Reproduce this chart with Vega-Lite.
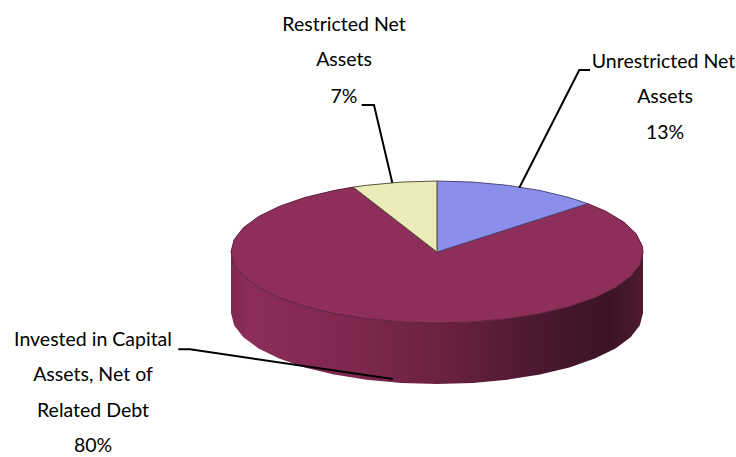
{"$schema":"https://vega.github.io/schema/vega-lite/v6.json","width":736,"height":457,"autosize":"none","padding":0,"background":"white","view":{"stroke":null},
"datasets":{
"side":[{"i":1,"x":231,"y":252},{"i":2,"x":234.1,"y":264.3},{"i":3,"x":243.4,"y":276.3},{"i":4,"x":258.6,"y":287.5},{"i":5,"x":279.2,"y":297.6},{"i":6,"x":304.6,"y":306.4},{"i":7,"x":334,"y":313.5},{"i":8,"x":366.5,"y":318.7},{"i":9,"x":401.2,"y":321.9},{"i":10,"x":437,"y":323},{"i":11,"x":472.8,"y":321.9},{"i":12,"x":507.5,"y":318.7},{"i":13,"x":540,"y":313.5},{"i":14,"x":569.4,"y":306.4},{"i":15,"x":594.8,"y":297.6},{"i":16,"x":615.4,"y":287.5},{"i":17,"x":630.6,"y":276.3},{"i":18,"x":639.9,"y":264.3},{"i":19,"x":643,"y":252},{"i":20,"x":643,"y":313},{"i":21,"x":639.9,"y":325.3},{"i":22,"x":630.6,"y":337.3},{"i":23,"x":615.4,"y":348.5},{"i":24,"x":594.8,"y":358.6},{"i":25,"x":569.4,"y":367.4},{"i":26,"x":540,"y":374.5},{"i":27,"x":507.5,"y":379.7},{"i":28,"x":472.8,"y":382.9},{"i":29,"x":437,"y":384},{"i":30,"x":401.2,"y":382.9},{"i":31,"x":366.5,"y":379.7},{"i":32,"x":334,"y":374.5},{"i":33,"x":304.6,"y":367.4},{"i":34,"x":279.2,"y":358.6},{"i":35,"x":258.6,"y":348.5},{"i":36,"x":243.4,"y":337.3},{"i":37,"x":234.1,"y":325.3},{"i":38,"x":231,"y":313},{"i":39,"x":231,"y":252}],
"invested":[{"i":0,"x":437,"y":252},{"i":1,"x":587.7,"y":203.6},{"i":2,"x":605.8,"y":211.3},{"i":3,"x":623.7,"y":222},{"i":4,"x":636,"y":233.6},{"i":5,"x":642.2,"y":245.8},{"i":6,"x":643,"y":252},{"i":7,"x":639.9,"y":264.3},{"i":8,"x":630.6,"y":276.3},{"i":9,"x":615.4,"y":287.5},{"i":10,"x":594.8,"y":297.6},{"i":11,"x":569.4,"y":306.4},{"i":12,"x":540,"y":313.5},{"i":13,"x":507.5,"y":318.7},{"i":14,"x":472.8,"y":321.9},{"i":15,"x":437,"y":323},{"i":16,"x":401.2,"y":321.9},{"i":17,"x":366.5,"y":318.7},{"i":18,"x":334,"y":313.5},{"i":19,"x":304.6,"y":306.4},{"i":20,"x":279.2,"y":297.6},{"i":21,"x":258.6,"y":287.5},{"i":22,"x":243.4,"y":276.3},{"i":23,"x":234.1,"y":264.3},{"i":24,"x":231,"y":252},{"i":25,"x":234.1,"y":239.7},{"i":26,"x":243.4,"y":227.7},{"i":27,"x":258.6,"y":216.5},{"i":28,"x":279.2,"y":206.4},{"i":29,"x":304.6,"y":197.6},{"i":30,"x":334,"y":190.5},{"i":31,"x":353.2,"y":187.1},{"i":32,"x":437,"y":252}],
"unrestricted":[{"i":0,"x":437,"y":252},{"i":1,"x":437,"y":181},{"i":2,"x":472.8,"y":182.1},{"i":3,"x":507.5,"y":185.3},{"i":4,"x":540,"y":190.5},{"i":5,"x":569.4,"y":197.6},{"i":6,"x":587.7,"y":203.6},{"i":7,"x":437,"y":252}],
"restricted":[{"i":0,"x":437,"y":252},{"i":1,"x":353.2,"y":187.1},{"i":2,"x":366.5,"y":185.3},{"i":3,"x":401.2,"y":182.1},{"i":4,"x":437,"y":181},{"i":5,"x":437,"y":252}],
"leaders":[{"k":"r","i":0,"x":361.7,"y":105},{"k":"r","i":1,"x":374,"y":105},{"k":"r","i":2,"x":392.3,"y":182.7},{"k":"u","i":0,"x":590,"y":70},{"k":"u","i":1,"x":579.3,"y":70},{"k":"u","i":2,"x":519.3,"y":187.7},{"k":"c","i":0,"x":178.3,"y":349.3},{"k":"c","i":1,"x":190,"y":349.3},{"k":"c","i":2,"x":392.7,"y":379}],
"labels":[{"x":344,"y":25,"t":"Restricted Net"},{"x":344,"y":60,"t":"Assets"},{"x":344,"y":97,"t":"7%"},{"x":663.5,"y":62,"t":"Unrestricted Net"},{"x":665,"y":97,"t":"Assets"},{"x":665,"y":133,"t":"13%"},{"x":93,"y":340,"t":"Invested in Capital"},{"x":93,"y":375,"t":"Assets, Net of"},{"x":93,"y":411,"t":"Related Debt"},{"x":93,"y":446,"t":"80%"}]
},
"encoding":{
"x":{"field":"x","type":"quantitative","scale":{"domain":[0,736],"nice":false,"zero":false},"axis":null},
"y":{"field":"y","type":"quantitative","scale":{"domain":[457,0],"nice":false,"zero":false},"axis":null}
},
"layer":[
{"data":{"name":"side"},"mark":{"type":"line","interpolate":"linear","strokeWidth":0,"fill":{"gradient":"linear","x1":0,"y1":0,"x2":1,"y2":0,"stops":[{"offset":0,"color":"#7f2850"},{"offset":0.04,"color":"#8c2d5a"},{"offset":0.3,"color":"#7e274f"},{"offset":0.55,"color":"#662040"},{"offset":0.75,"color":"#4a1830"},{"offset":0.92,"color":"#3a1424"},{"offset":1,"color":"#4f1a30"}]}},"encoding":{"order":{"field":"i","type":"quantitative"}}},
{"data":{"name":"invested"},"mark":{"type":"line","fill":"#8e2f5b","stroke":"#5e1e3c","strokeWidth":1},"encoding":{"order":{"field":"i","type":"quantitative"}}},
{"data":{"name":"unrestricted"},"mark":{"type":"line","fill":"#8c8eec","stroke":"#4c4a78","strokeWidth":1},"encoding":{"order":{"field":"i","type":"quantitative"}}},
{"data":{"name":"restricted"},"mark":{"type":"line","fill":"#ececb8","stroke":"#55553a","strokeWidth":1},"encoding":{"order":{"field":"i","type":"quantitative"}}},
{"data":{"name":"leaders"},"mark":{"type":"line","stroke":"#000000","strokeWidth":2},"encoding":{"detail":{"field":"k"},"order":{"field":"i","type":"quantitative"}}},
{"data":{"name":"labels"},"mark":{"type":"text","font":"Lato","fontSize":19.5,"color":"#000000","align":"center","baseline":"middle"},"encoding":{"text":{"field":"t"}}}
]}
